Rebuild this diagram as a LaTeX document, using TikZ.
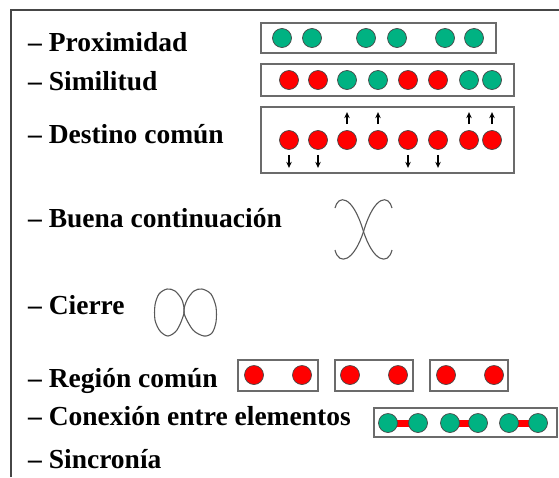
\documentclass[tikz,border=0pt]{standalone}
\usepackage{fontspec}
\setmainfont{Liberation Serif}
\usetikzlibrary{arrows.meta,backgrounds}

\definecolor{verde}{RGB}{0,178,130}
\definecolor{rojo}{RGB}{255,0,0}
\definecolor{borde}{RGB}{70,70,70}

\tikzset{
  lbl/.style={anchor=base west, inner sep=0pt, font=\bfseries\fontsize{27.5}{31}\selectfont},
  bola/.style={circle, draw=borde, line width=0.7pt, minimum size=19pt, inner sep=0pt},
  caja/.style={draw=borde!80, line width=1.2pt},
  mov/.style={-{Stealth[length=6pt,width=5.5pt]}, line width=1.3pt},
  barra/.style={rojo, line width=7pt},
  trazo/.style={draw=borde!90, line width=1.1pt}
}

\begin{document}
\begin{tikzpicture}[x=1pt, y=-1pt]
    \useasboundingbox (0,0) rectangle (559,477);
    % marco exterior
    \draw[borde, line width=1.5pt] (11,477) -- (11,10) -- (559,10);

    % textos
    \node[lbl] (tprox) at (28,51)  {– Proximidad};
    \node[lbl] (tsim)  at (28,90)  {– Similitud};
    \node[lbl] (tdest) at (28,143) {– Destino común};
    \node[lbl] (tcont) at (28,227) {– Buena continuación};
    \node[lbl] (tcier) at (28,314) {– Cierre};
    \node[lbl] (treg)  at (28,387) {– Región común};
    \node[lbl] (tcon)  at (28,425) {– Conexión entre elementos};
    \node[lbl] (tsinc) at (28,468) {– Sincronía};

    % proximidad
    \draw[caja] (261,23) rectangle (496,53);
    \foreach \x [count=\i] in {282,312,366,397,445,474}
        \node[bola, fill=verde] (prox\i) at (\x,38) {};

    % similitud
    \draw[caja] (261,64) rectangle (514,96);
    \foreach \x/\c [count=\i] in {289/rojo,318/rojo,347/verde,378/verde,408/rojo,438/rojo,469/verde,492/verde}
        \node[bola, fill=\c] (sim\i) at (\x,80) {};

    % destino comun
    \draw[caja] (261,107) rectangle (514,173);
    \foreach \x [count=\i] in {289,318,347,378,408,438,469,492}
        \node[bola, fill=rojo] (dest\i) at (\x,140) {};
    \foreach \i in {3,4,7,8}
        \draw[mov] ([yshift=6pt]dest\i.north) -- ++(0,-12);
    \foreach \i in {1,2,5,6}
        \draw[mov] ([yshift=-5pt]dest\i.south) -- ++(0,13);

    % buena continuacion
    \draw[trazo] (335,208) .. controls (338,195) and (352,194) .. (363,230)
        .. controls (373,262) and (388,266) .. (392,250);
    \draw[trazo] (392,208) .. controls (389,195) and (375,194) .. (364,230)
        .. controls (354,262) and (339,266) .. (335,250);

    % cierre
    \draw[trazo] plot[smooth cycle] coordinates {(184,313) (182,300) (175,291) (167,289) (159,294) (155,305) (155,320) (160,331) (168,336) (177,330)};
    \draw[trazo] plot[smooth cycle] coordinates {(184,313) (187,300) (194,291) (202,289) (211,294) (216,307) (216,322) (212,333) (204,336) (193,330)};

    % region comun
    \foreach \xa/\xb/\x/\y [count=\i] in {238/318/254/302, 335/413/350/398, 430/508/446/494} {
        \draw[caja] (\xa,360) rectangle (\xb,391);
        \node[bola, fill=rojo] (reg\i a) at (\x,375) {};
        \node[bola, fill=rojo] (reg\i b) at (\y,375) {};
    }

    % conexion entre elementos
    \draw[caja] (374,408) rectangle (557,437);
    \foreach \x [count=\i] in {388,418,450,478,509,538}
        \node[bola, fill=verde] (con\i) at (\x,423) {};
    \begin{pgfonlayer}{background}
        \foreach \a/\b in {1/2,3/4,5/6}
            \draw[barra] (con\a.center) -- (con\b.center);
    \end{pgfonlayer}
\end{tikzpicture}
\end{document}
